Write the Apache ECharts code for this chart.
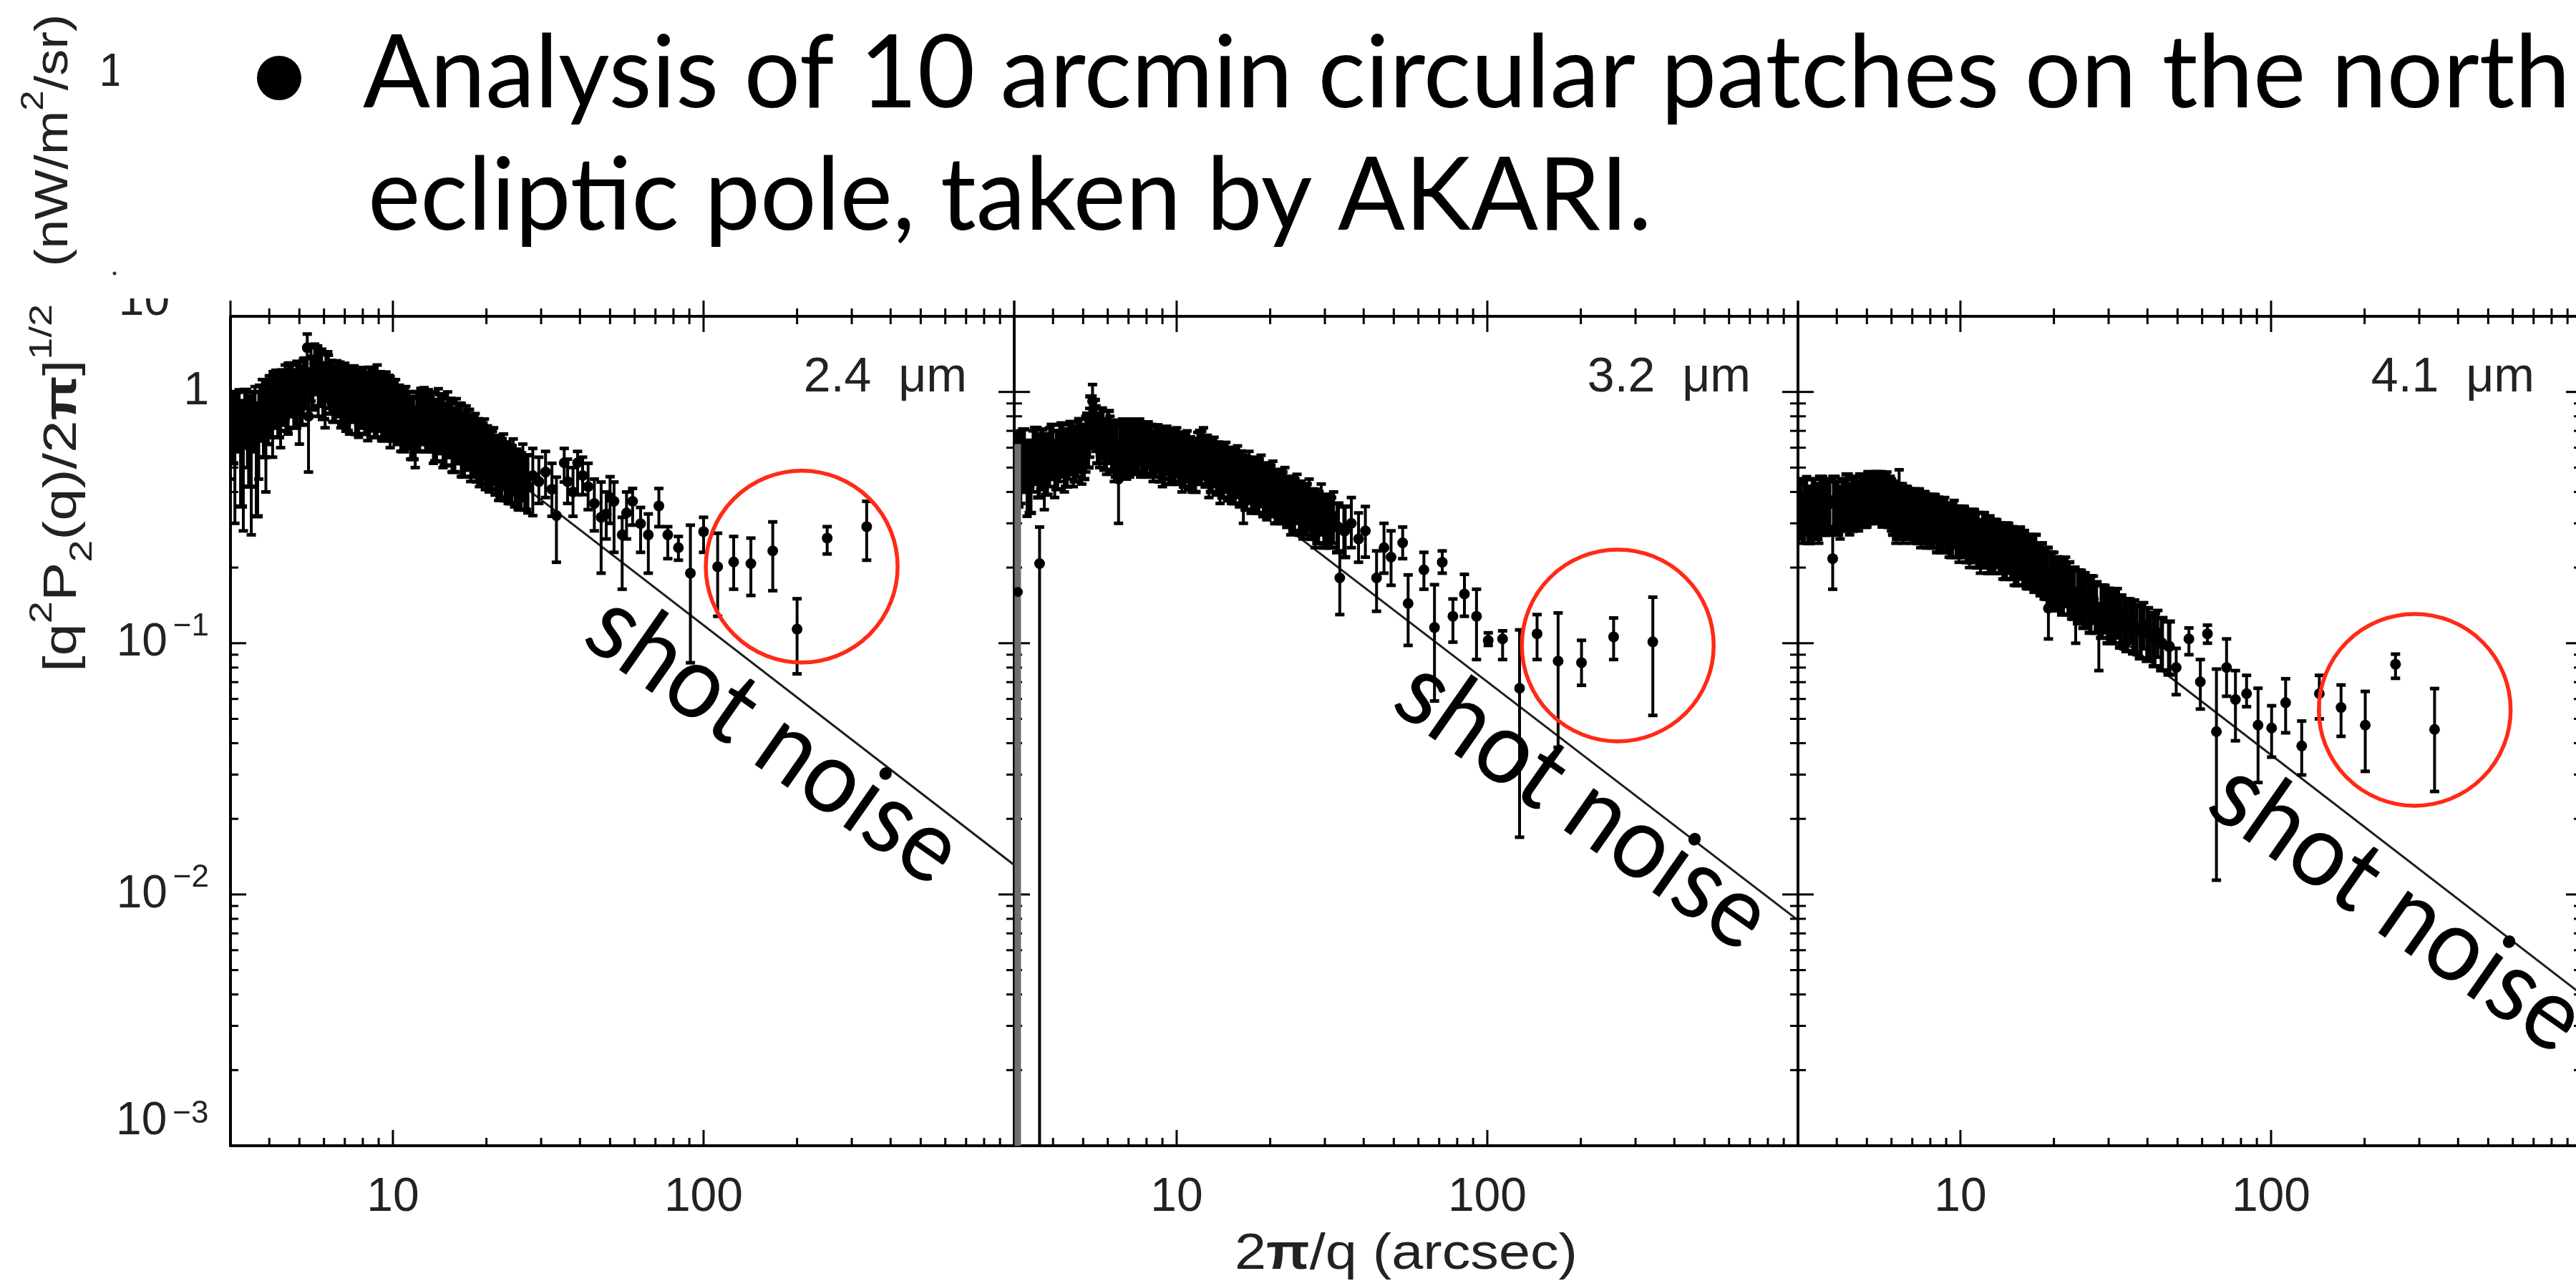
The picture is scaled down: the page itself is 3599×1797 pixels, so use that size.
<!DOCTYPE html>
<html>
<head>
<meta charset="utf-8">
<title>AKARI NEP fluctuation spectra</title>
<script src="https://cdn.jsdelivr.net/npm/echarts@6/dist/echarts.min.js"></script>
<style>
html,body{margin:0;padding:0;background:#ffffff;overflow:hidden}
#chart{width:3599px;height:1797px}
</style>
</head>
<body>
<div id="chart"></div>
<script>
// ================= DATA =================
// 2.4 um panel : x = 2pi/q (arcsec), y = [q^2 P2(q)/2pi]^1/2, lo/hi = error bar ends
const p24x = [3.0,3.1,3.2,3.3,3.4,3.5,3.6,3.7,3.8,3.9,4.0,4.1,4.2,4.35,4.5,4.6,4.75,4.9,5.0,5.15,5.3,5.35,5.45,5.6,5.75,5.9,6.05,6.2,6.4,6.6,6.8,7.0,7.25,7.5,7.75,8.0,8.3,8.6,8.9,9.2,9.5,9.8,10.2,10.6,11.0,11.4,11.8,12.2,12.6,13.0,13.5,14.0,14.5,15.0,15.5,16.0,16.6,17.2,17.8,18.4,19.0,19.7,20.4,21.1,21.9,22.7,23.5,24.4,25.3,26.2,27.2,
  28.2,29.5,31.0,32.5,33.6,35.6,36.5,38.0,39.3,40.8,42.5,44.5,46.8,48.6,50.0,51.5,54.7,56.5,59.1,62.7,66.4,71.8,76.7,83.0,90.7,100,111,125,142,167,200,250,335];
const p24y = [0.80,0.72,0.85,0.68,0.78,0.62,0.82,0.75,0.88,0.70,0.92,0.85,0.95,0.88,1.00,0.90,1.02,0.95,0.88,1.05,1.50,0.80,1.20,1.30,1.10,1.20,1.00,1.15,1.05,1.10,0.98,1.05,0.95,1.02,0.92,0.98,0.90,0.95,1.00,0.85,0.92,0.88,0.90,0.82,0.86,0.78,0.70,0.78,0.85,0.80,0.75,0.80,0.72,0.76,0.68,0.72,0.65,0.68,0.60,0.64,0.57,0.60,0.54,0.57,0.50,0.53,0.47,0.50,0.44,0.47,0.42,
  0.465,0.44,0.48,0.41,0.322,0.522,0.44,0.40,0.522,0.465,0.42,0.36,0.317,0.327,0.38,0.367,0.27,0.33,0.367,0.299,0.27,0.352,0.27,0.24,0.19,0.278,0.2016,0.2105,0.2075,0.233,0.1138,0.262,0.291];
const p24lo = [0.45,0.30,0.60,0.28,0.50,0.27,0.62,0.45,0.66,0.40,0.72,0.55,0.75,0.60,0.78,0.68,0.80,0.72,0.62,0.80,1.20,0.48,0.92,1.02,0.80,0.92,0.72,0.86,0.76,0.82,0.72,0.80,0.68,0.78,0.66,0.74,0.64,0.70,0.66,0.64,0.68,0.60,0.66,0.58,0.62,0.54,0.50,0.58,0.62,0.58,0.52,0.58,0.50,0.55,0.48,0.53,0.46,0.50,0.44,0.48,0.42,0.45,0.40,0.43,0.37,0.41,0.36,0.39,0.34,0.37,0.33,
  0.322,0.36,0.38,0.32,0.210,0.438,0.36,0.32,0.39,0.39,0.34,0.28,0.19,0.26,0.30,0.23,0.164,0.26,0.295,0.23,0.19,0.291,0.217,0.214,0.0836,0.23,0.128,0.164,0.1549,0.1618,0.0755,0.2266,0.214];
const p24hi = [1.00,0.95,1.02,0.92,1.00,0.88,1.05,1.00,1.12,0.98,1.16,1.12,1.22,1.18,1.28,1.30,1.30,1.28,1.20,1.35,1.70,1.10,1.50,1.55,1.45,1.48,1.30,1.40,1.32,1.33,1.28,1.30,1.22,1.27,1.20,1.25,1.20,1.24,1.28,1.18,1.20,1.15,1.12,1.02,1.05,0.96,0.87,0.98,1.04,1.02,1.00,1.03,0.96,1.00,0.92,0.94,0.90,0.88,0.80,0.82,0.76,0.78,0.70,0.72,0.66,0.68,0.62,0.65,0.58,0.62,0.56,
  0.596,0.55,0.58,0.52,0.458,0.596,0.54,0.50,0.58,0.55,0.52,0.45,0.438,0.40,0.46,0.438,0.317,0.40,0.413,0.347,0.327,0.413,0.291,0.266,0.295,0.317,0.274,0.266,0.262,0.304,0.1503,0.291,0.367];
// extra densely packed points of the 2.4 um band
const p24bx = [3.05,3.15,3.25,3.35,3.45,3.55,3.65,3.75,3.85,3.95,4.05,4.15,4.28,4.42,4.55,4.68,4.82,4.95,5.08,5.22,5.5,5.68,5.82,5.98,6.12,6.3,6.5,6.7,6.9,7.12,7.38,7.62,7.88,8.15,8.45,8.75,9.05,9.35,9.65,10.0,10.4,10.8,11.2,11.6,12.0,12.4,12.8,13.25,13.75,14.25,14.75,15.25,15.75,16.3,16.9,17.5,18.1,18.7,19.35,20.0,20.75,21.5,22.3,23.1,24.0,24.85,25.75,26.7];
const p24by = [0.76,0.80,0.70,0.82,0.74,0.80,0.68,0.86,0.78,0.84,0.88,0.96,0.90,0.98,0.94,1.05,0.96,1.08,1.00,1.12,1.10,1.25,1.15,1.05,1.20,1.08,1.02,1.06,1.00,0.96,1.00,0.94,0.96,0.92,0.98,0.90,0.94,0.88,0.90,0.86,0.84,0.80,0.80,0.74,0.80,0.82,0.78,0.78,0.73,0.77,0.70,0.74,0.66,0.70,0.63,0.66,0.62,0.60,0.58,0.56,0.55,0.52,0.51,0.49,0.48,0.46,0.45,0.44];
const p24blo = [0.52,0.58,0.35,0.60,0.42,0.58,0.32,0.64,0.55,0.62,0.66,0.72,0.66,0.74,0.70,0.80,0.72,0.82,0.74,0.86,0.85,0.98,0.88,0.78,0.92,0.82,0.76,0.80,0.74,0.70,0.76,0.68,0.72,0.68,0.72,0.66,0.70,0.64,0.66,0.64,0.62,0.58,0.60,0.54,0.58,0.62,0.58,0.58,0.53,0.57,0.51,0.55,0.48,0.52,0.46,0.49,0.46,0.44,0.43,0.41,0.41,0.39,0.38,0.37,0.36,0.35,0.34,0.34];
const p24bhi = [0.98,1.00,0.92,1.02,0.96,1.00,0.90,1.06,1.02,1.08,1.12,1.20,1.14,1.22,1.20,1.30,1.22,1.32,1.26,1.36,1.38,1.52,1.42,1.30,1.44,1.33,1.26,1.31,1.25,1.21,1.26,1.19,1.22,1.18,1.25,1.16,1.20,1.14,1.16,1.10,1.06,1.02,1.00,0.95,1.00,1.03,0.98,0.99,0.93,0.98,0.90,0.94,0.86,0.90,0.82,0.85,0.80,0.78,0.75,0.73,0.70,0.67,0.65,0.63,0.61,0.59,0.57,0.56];

// 3.2 um panel
const p32x = [3.0,3.15,3.3,3.45,3.75,3.9,4.05,4.2,4.35,4.5,4.65,4.8,4.95,5.1,5.25,5.36,5.5,5.65,5.8,5.95,6.1,6.3,6.5,6.7,6.9,7.1,7.35,7.6,7.85,8.1,8.4,8.7,9.0,9.3,9.65,10.0,10.4,10.8,11.2,11.7,12.2,12.7,13.2,13.8,14.4,15.0,15.7,16.4,17.1,17.9,18.7,19.5,20.4,21.3,22.3,23.3,24.4,25.5,26.7,27.9,29.2,30.6,32.0,36.5,38.5,40.5,46.5,49.0,
  3.62,33.5,44.0,53.4,55.6,62.5,67.6,71.6,77.5,84.4,92.3,100.7,112,127,144.6,169,201,255,341];
const p32y = [0.48,0.52,0.45,0.55,0.50,0.56,0.50,0.57,0.52,0.58,0.54,0.60,0.56,0.62,0.70,0.92,0.72,0.64,0.68,0.60,0.66,0.58,0.45,0.63,0.58,0.64,0.60,0.65,0.58,0.63,0.57,0.61,0.54,0.60,0.55,0.58,0.52,0.56,0.50,0.55,0.58,0.50,0.53,0.47,0.51,0.46,0.49,0.43,0.46,0.42,0.45,0.40,0.42,0.38,0.40,0.35,0.38,0.33,0.36,0.31,0.34,0.30,0.32,0.30,0.26,0.28,0.24,0.22,
  0.2075,0.182,0.182,0.251,0.144,0.196,0.1155,0.210,0.128,0.157,0.128,0.1027,0.104,0.0662,0.109,0.0849,0.0837,0.106,0.1013];
const p32lo = [0.30,0.36,0.32,0.40,0.34,0.42,0.38,0.44,0.40,0.45,0.42,0.46,0.43,0.48,0.55,0.76,0.58,0.50,0.54,0.47,0.52,0.44,0.30,0.50,0.45,0.50,0.47,0.52,0.46,0.50,0.44,0.48,0.42,0.47,0.43,0.46,0.40,0.44,0.40,0.43,0.45,0.38,0.42,0.36,0.40,0.36,0.38,0.30,0.36,0.33,0.35,0.31,0.33,0.30,0.31,0.27,0.30,0.26,0.28,0.24,0.27,0.24,0.25,0.24,0.21,0.22,0.19,0.17,
  0.0005,0.130,0.134,0.217,0.098,0.164,0.0589,0.19,0.101,0.128,0.0861,0.098,0.0861,0.0169,0.0861,0.0385,0.068,0.0861,0.0516];
const p32hi = [0.66,0.70,0.62,0.70,0.66,0.72,0.64,0.74,0.68,0.74,0.70,0.76,0.72,0.80,0.86,1.07,0.88,0.80,0.84,0.76,0.80,0.74,0.62,0.78,0.73,0.78,0.74,0.78,0.72,0.76,0.70,0.74,0.68,0.73,0.70,0.72,0.66,0.70,0.64,0.69,0.72,0.64,0.66,0.60,0.63,0.59,0.61,0.56,0.58,0.55,0.56,0.52,0.53,0.49,0.50,0.46,0.47,0.43,0.45,0.41,0.43,0.39,0.40,0.38,0.33,0.35,0.30,0.28,
  0.29,0.233,0.233,0.29,0.187,0.23,0.171,0.233,0.150,0.188,0.164,0.110,0.112,0.113,0.130,0.132,0.1027,0.126,0.1525];
// extra densely packed points of the 3.2 um band
const p32bx = [3.08,3.22,3.38,3.52,3.6,3.68,3.82,3.98,4.12,4.28,4.42,4.58,4.72,4.88,5.02,5.18,5.3,5.43,5.58,5.72,5.88,6.02,6.2,6.4,6.6,6.8,7.0,7.22,7.48,7.72,7.98,8.25,8.55,8.85,9.15,9.48,9.82,10.2,10.6,11.0,11.45,11.95,12.45,12.95,13.5,14.1,14.7,15.35,16.05,16.75,17.5,18.3,19.1,19.95,20.85,21.8,22.8,23.85,24.95,26.1,27.3,28.5,29.9,31.3,33.0,34.7];
const p32by = [0.50,0.54,0.48,0.57,0.52,0.55,0.53,0.58,0.54,0.59,0.55,0.60,0.57,0.61,0.58,0.64,0.78,0.76,0.66,0.70,0.63,0.68,0.62,0.60,0.61,0.62,0.60,0.62,0.62,0.60,0.59,0.60,0.59,0.57,0.58,0.56,0.57,0.55,0.54,0.53,0.52,0.56,0.54,0.52,0.50,0.49,0.48,0.47,0.46,0.44,0.43,0.43,0.41,0.41,0.39,0.38,0.37,0.36,0.35,0.34,0.33,0.32,0.31,0.30,0.29,0.28];
const p32blo = [0.35,0.40,0.33,0.43,0.38,0.41,0.39,0.45,0.41,0.46,0.42,0.47,0.44,0.48,0.45,0.50,0.62,0.60,0.52,0.56,0.49,0.54,0.48,0.46,0.47,0.48,0.46,0.48,0.48,0.46,0.46,0.47,0.46,0.44,0.45,0.43,0.44,0.43,0.42,0.41,0.40,0.43,0.42,0.40,0.39,0.38,0.37,0.36,0.35,0.34,0.33,0.33,0.32,0.32,0.30,0.30,0.29,0.28,0.27,0.27,0.26,0.25,0.24,0.24,0.23,0.22];
const p32bhi = [0.68,0.71,0.64,0.72,0.68,0.71,0.68,0.74,0.70,0.75,0.71,0.76,0.73,0.78,0.74,0.82,0.96,0.93,0.82,0.86,0.78,0.84,0.77,0.75,0.76,0.77,0.75,0.77,0.77,0.75,0.73,0.74,0.73,0.71,0.72,0.70,0.71,0.69,0.68,0.66,0.65,0.70,0.67,0.65,0.63,0.61,0.60,0.59,0.58,0.55,0.54,0.54,0.52,0.51,0.49,0.48,0.46,0.45,0.44,0.43,0.41,0.40,0.39,0.38,0.36,0.35];
// the long grey bar at the very left of the 3.2 um panel
const p32greyX = [3.08];
const p32greyY = [0.16];
const p32greyLo = [0.0005];
const p32greyHi = [0.62];

// 4.1 um panel
const p41x = [3.0,3.1,3.2,3.3,3.4,3.5,3.6,3.7,3.88,3.95,4.1,4.25,4.4,4.55,4.7,4.85,5.0,5.15,5.3,5.45,5.6,5.8,6.0,6.2,6.35,6.55,6.75,6.95,7.2,7.45,7.7,8.0,8.3,8.6,8.9,9.2,9.55,9.9,10.3,10.7,11.1,11.6,12.1,12.6,13.1,13.7,14.3,14.9,15.6,16.3,17.0,17.8,18.6,19.2,20.0,20.9,21.8,22.8,23.5,24.5,25.6,26.8,27.9,29.2,30.6,32.0,33.6,35.2,37.0,38.9,41.0,43.2,
  49.5,54.4,59.2,62.4,66.7,71.9,76.8,83.4,90.8,100.4,111.4,125.5,143,168,201,251.5,336];
const p41y = [0.36,0.32,0.38,0.34,0.37,0.33,0.38,0.35,0.217,0.36,0.34,0.37,0.35,0.38,0.36,0.39,0.37,0.40,0.38,0.40,0.37,0.39,0.36,0.33,0.35,0.33,0.35,0.32,0.34,0.31,0.33,0.30,0.32,0.29,0.31,0.28,0.30,0.27,0.28,0.26,0.27,0.25,0.26,0.24,0.25,0.23,0.24,0.22,0.23,0.21,0.215,0.20,0.19,0.1377,0.18,0.17,0.175,0.16,0.128,0.155,0.145,0.15,0.1138,0.14,0.13,0.135,0.12,0.125,0.115,0.118,0.108,0.11,
  0.080,0.104,0.0702,0.109,0.0445,0.080,0.0597,0.063,0.0472,0.046,0.058,0.039,0.063,0.0555,0.0472,0.0825,0.0454];
const p41lo = [0.26,0.25,0.28,0.26,0.28,0.25,0.29,0.27,0.164,0.28,0.26,0.29,0.27,0.30,0.28,0.30,0.29,0.31,0.30,0.32,0.29,0.31,0.28,0.25,0.26,0.25,0.27,0.25,0.26,0.24,0.26,0.24,0.25,0.23,0.24,0.22,0.24,0.21,0.22,0.20,0.21,0.19,0.20,0.19,0.20,0.18,0.19,0.17,0.18,0.165,0.17,0.16,0.15,0.104,0.14,0.135,0.14,0.125,0.10,0.12,0.115,0.12,0.0778,0.11,0.10,0.105,0.095,0.10,0.09,0.095,0.085,0.088,
  0.0624,0.09,0.0547,0.10,0.0114,0.0615,0.0409,0.0559,0.0279,0.0352,0.044,0.0299,0.050,0.0426,0.0309,0.0725,0.0257];
const p41hi = [0.44,0.40,0.46,0.42,0.45,0.41,0.46,0.43,0.291,0.44,0.42,0.45,0.43,0.46,0.44,0.47,0.46,0.48,0.47,0.48,0.46,0.48,0.45,0.42,0.49,0.41,0.42,0.40,0.41,0.39,0.40,0.38,0.39,0.36,0.38,0.35,0.37,0.34,0.35,0.33,0.34,0.31,0.32,0.30,0.31,0.29,0.30,0.28,0.29,0.27,0.27,0.25,0.24,0.166,0.23,0.22,0.22,0.20,0.16,0.195,0.18,0.185,0.138,0.17,0.16,0.165,0.15,0.15,0.14,0.145,0.13,0.135,
  0.0954,0.115,0.0861,0.118,0.0789,0.104,0.0778,0.0745,0.0662,0.0564,0.0722,0.049,0.0745,0.0682,0.0643,0.0905,0.066];
// extra densely packed points of the 4.1 um band
const p41bx = [3.05,3.15,3.25,3.35,3.45,3.55,3.65,3.78,3.92,4.02,4.18,4.32,4.48,4.62,4.78,4.92,5.08,5.22,5.38,5.52,5.7,5.9,6.1,6.28,6.45,6.65,6.85,7.08,7.32,7.58,7.85,8.15,8.45,8.75,9.05,9.38,9.72,10.1,10.5,10.9,11.35,11.85,12.35,12.85,13.4,14.0,14.6,15.25,15.95,16.65,17.4,18.2,19.0,19.6,20.45,21.35,22.3,23.2,24.0,25.0,26.2,27.3,28.5,29.9,31.3,32.8,34.4,36.1,38.0,40.0,42.1,44.5,47.0];
const p41by = [0.34,0.36,0.33,0.36,0.34,0.37,0.35,0.36,0.37,0.35,0.36,0.38,0.36,0.37,0.38,0.37,0.39,0.38,0.39,0.39,0.38,0.37,0.35,0.34,0.34,0.34,0.33,0.33,0.33,0.32,0.31,0.31,0.30,0.30,0.29,0.29,0.28,0.28,0.27,0.27,0.26,0.26,0.25,0.25,0.24,0.24,0.23,0.22,0.22,0.21,0.21,0.20,0.19,0.185,0.175,0.17,0.165,0.16,0.155,0.15,0.145,0.14,0.135,0.13,0.128,0.124,0.12,0.118,0.112,0.11,0.105,0.10,0.097];
const p41blo = [0.26,0.27,0.25,0.27,0.26,0.28,0.27,0.27,0.28,0.27,0.28,0.29,0.28,0.29,0.30,0.29,0.30,0.30,0.31,0.31,0.30,0.29,0.27,0.26,0.26,0.26,0.26,0.26,0.25,0.25,0.24,0.24,0.23,0.23,0.23,0.22,0.22,0.22,0.21,0.21,0.20,0.20,0.19,0.19,0.19,0.18,0.18,0.17,0.17,0.165,0.16,0.155,0.15,0.145,0.135,0.13,0.13,0.125,0.12,0.115,0.11,0.11,0.105,0.10,0.10,0.096,0.093,0.091,0.087,0.085,0.081,0.078,0.075];
const p41bhi = [0.43,0.45,0.42,0.45,0.43,0.46,0.44,0.45,0.46,0.44,0.45,0.47,0.45,0.46,0.47,0.46,0.48,0.47,0.48,0.48,0.47,0.46,0.44,0.43,0.43,0.42,0.41,0.41,0.41,0.40,0.39,0.39,0.38,0.37,0.36,0.36,0.35,0.35,0.34,0.34,0.33,0.33,0.32,0.31,0.30,0.30,0.29,0.28,0.28,0.27,0.27,0.25,0.24,0.23,0.22,0.215,0.21,0.20,0.195,0.19,0.185,0.175,0.17,0.165,0.16,0.155,0.15,0.148,0.142,0.138,0.132,0.126,0.122];

// shot-noise lines (end points, data units)
const shot24 = [22, 0.50, 1000, 0.0131];
const shot32 = [23, 0.283, 1000, 0.0079];
const shot41 = [24, 0.14, 1000, 0.0040];

// panel labels
const bandLabels = ['2.4  \u03bcm', '3.2  \u03bcm', '4.1  \u03bcm'];

// axis ticks
const xMajorTicks = [10, 100];
const xMinorTicks = [4,5,6,7,8,9,20,30,40,50,60,70,80,90,200,300,400,500,600,700,800,900];
const yMajorTicks = [0.001, 0.01, 0.1, 1];
const yMinorTicks = [0.002,0.003,0.004,0.005,0.006,0.007,0.008,0.009,0.02,0.03,0.04,0.05,0.06,0.07,0.08,0.09,0.2,0.3,0.4,0.5,0.6,0.7,0.8,0.9];

// annotations (data units of each panel)
const circleCenters = [[207, 0.2018], [263, 0.098], [290, 0.0543]];
const shotLabelAt = [[169, 0.0418], [204, 0.0229], [256, 0.00895]];

// slide text
const titleLine1 = 'Analysis of 10 arcmin circular patches on the north';
const titleLine2 = 'ecliptic pole, taken by AKARI.';

// ================= LAYOUT / STYLE =================
const panelLeft = [322, 1417, 2512];
const panelW = 1095, panelTop = 442, panelH = 1159;
const AX = 'Liberation Sans';
const TXT = '#222';

const ctx = document.createElement('canvas').getContext('2d');
function tw(text, font) { ctx.font = font; return ctx.measureText(text).width; }

function xFmt(v) {
  const e = Math.log10(v), r = Math.round(e);
  if (Math.abs(e - r) > 1e-6) return '';
  if (r === 1) return '10';
  if (r === 2) return '100';
  return '';
}
function yFmt(v) {
  const e = Math.log10(v), r = Math.round(e);
  if (Math.abs(e - r) > 1e-6) return '';
  if (r === 0) return '{b|1}';
  if (r === -3) return '{b3|10}{s|\u2212' + (-r) + '}{sp| }';
  if (r < 0) return '{b|10}{s|\u2212' + (-r) + '}';
  return '';
}

function makeErrRender(barW, capHalf, capW, dotR) {
  return function (params, api) {
    const x = api.value(0);
    const p = api.coord([x, api.value(1)]);
    const a = api.coord([x, api.value(3)]);
    const b = api.coord([x, api.value(2)]);
    const st = {stroke: '#000', lineWidth: barW};
    const cap = {stroke: '#000', lineWidth: capW};
    return {type: 'group', children: [
      {type: 'line', shape: {x1: p[0], y1: a[1], x2: p[0], y2: b[1]}, style: st},
      {type: 'line', shape: {x1: p[0] - capHalf, y1: a[1], x2: p[0] + capHalf, y2: a[1]}, style: cap},
      {type: 'line', shape: {x1: p[0] - capHalf, y1: b[1], x2: p[0] + capHalf, y2: b[1]}, style: cap},
      {type: 'circle', shape: {cx: p[0], cy: p[1], r: dotR}, style: {fill: '#000'}}
    ]};
  };
}
function greyRender(params, api) {
  const x = api.value(0);
  const p = api.coord([x, api.value(1)]);
  const a = api.coord([x, api.value(3)]);
  const b = api.coord([x, api.value(2)]);
  return {type: 'group', children: [
    {type: 'line', shape: {x1: p[0], y1: a[1], x2: p[0], y2: b[1]}, style: {stroke: '#6e6e6e', lineWidth: 9}},
    {type: 'circle', shape: {cx: p[0], cy: p[1], r: 7}, style: {fill: '#000'}}
  ]};
}
function shotRender(params, api) {
  const a = api.coord([api.value(0), api.value(1)]);
  const b = api.coord([api.value(2), api.value(3)]);
  return {type: 'line', shape: {x1: a[0], y1: a[1], x2: b[0], y2: b[1]}, style: {stroke: '#1e1e1e', lineWidth: 3}};
}
function tickRender(params, api) {
  const cs = params.coordSys;
  const L = cs.x, T = cs.y, R = cs.x + cs.width, B = cs.y + cs.height;
  const ch = [];
  const st = {stroke: '#000', lineWidth: 3};
  const seg = (x1, y1, x2, y2) => ch.push({type: 'line', shape: {x1, y1, x2, y2}, style: st});
  xMajorTicks.forEach(v => { const px = api.coord([v, 1])[0]; seg(px, B, px, B - 22); seg(px, T - 22, px, T + 22); });
  xMinorTicks.forEach(v => { const px = api.coord([v, 1])[0]; seg(px, B, px, B - 11); seg(px, T - 11, px, T + 11); });
  yMajorTicks.forEach(v => { const py = api.coord([10, v])[1]; seg(L, py, L + 22, py); seg(R - 22, py, R, py); });
  yMinorTicks.forEach(v => { const py = api.coord([10, v])[1]; seg(L, py, L + 11, py); seg(R - 11, py, R, py); });
  seg(L, T - 22, L, T); seg(R, T - 22, R, T);
  return {type: 'group', children: ch};
}

const panels = [
  {x: p24x, y: p24y, lo: p24lo, hi: p24hi, bx: p24bx, by: p24by, blo: p24blo, bhi: p24bhi, shot: shot24},
  {x: p32x, y: p32y, lo: p32lo, hi: p32hi, bx: p32bx, by: p32by, blo: p32blo, bhi: p32bhi, shot: shot32},
  {x: p41x, y: p41y, lo: p41lo, hi: p41hi, bx: p41bx, by: p41by, blo: p41blo, bhi: p41bhi, shot: shot41}
];

const LINE = {show: true, onZero: false, lineStyle: {color: '#000', width: 4}};
const grids = [], xAxes = [], yAxes = [], series = [];
const errSeriesIndex = [];
panels.forEach((pn, i) => {
  grids.push({left: panelLeft[i], top: panelTop, width: panelW, height: panelH, containLabel: false, outerBoundsMode: 'none', show: false});
  xAxes.push({type: 'log', logBase: 10, gridIndex: i, position: 'bottom', min: 3, max: 1000,
    axisLine: LINE, axisTick: {show: false}, minorTick: {show: false}, splitLine: {show: false},
    axisLabel: {show: true, margin: 40, fontSize: 66, fontFamily: AX, color: TXT, formatter: xFmt}});
  xAxes.push({type: 'log', logBase: 10, gridIndex: i, position: 'top', min: 3, max: 1000,
    axisLine: LINE, axisTick: {show: false}, minorTick: {show: false}, splitLine: {show: false}, axisLabel: {show: false}});
  yAxes.push({type: 'log', logBase: 10, gridIndex: i, position: 'left', min: 0.001, max: 2,
    axisLine: LINE, axisTick: {show: false}, minorTick: {show: false}, splitLine: {show: false},
    axisLabel: i === 0 ? {show: true, margin: 30, color: TXT, fontFamily: AX, fontSize: 64, formatter: yFmt,
      rich: {
        b: {fontSize: 64, fontFamily: AX, color: TXT, lineHeight: 90},
        b3: {fontSize: 64, fontFamily: AX, color: TXT, lineHeight: 90, verticalAlign: 'top'},
        s: {fontSize: 44, fontFamily: AX, color: TXT, lineHeight: 44, verticalAlign: 'top', padding: [0, 0, 0, 8]},
        sp: {fontSize: 2, lineHeight: 132}
      }} : {show: false}});
  yAxes.push({type: 'log', logBase: 10, gridIndex: i, position: 'right', min: 0.001, max: 2,
    axisLine: LINE, axisTick: {show: false}, minorTick: {show: false}, splitLine: {show: false}, axisLabel: {show: false}});

  series.push({type: 'custom', xAxisIndex: 2 * i, yAxisIndex: 2 * i, silent: true, clip: false, z: 3,
    renderItem: tickRender, data: [[10, 1]]});
  series.push({type: 'custom', xAxisIndex: 2 * i, yAxisIndex: 2 * i, silent: true, clip: true, z: 2,
    renderItem: shotRender, encode: {x: [0, 2], y: [1, 3]}, data: [pn.shot]});
  series.push({type: 'custom', xAxisIndex: 2 * i, yAxisIndex: 2 * i, silent: true, clip: true, z: 4,
    renderItem: makeErrRender(6, 8, 6, 8), encode: {x: 0, y: 1},
    data: pn.bx.map((v, k) => [v, pn.by[k], pn.blo[k], pn.bhi[k]])});
  errSeriesIndex.push(series.length);
  series.push({type: 'custom', xAxisIndex: 2 * i, yAxisIndex: 2 * i, silent: true, clip: true, z: 4,
    renderItem: makeErrRender(4, 6.5, 5, 7.5), encode: {x: 0, y: 1},
    data: pn.x.map((v, k) => [v, pn.y[k], pn.lo[k], pn.hi[k]])});
});
series.push({type: 'custom', xAxisIndex: 2, yAxisIndex: 2, silent: true, clip: true, z: 4,
  renderItem: greyRender, encode: {x: 0, y: 1},
  data: p32greyX.map((v, k) => [v, p32greyY[k], p32greyLo[k], p32greyHi[k]])});

const chart = echarts.init(document.getElementById('chart'), null, {renderer: 'canvas', width: 3599, height: 1797});
chart.setOption({
  animation: false,
  backgroundColor: '#ffffff',
  grid: grids, xAxis: xAxes, yAxis: yAxes, series: series
});

// ================= overlays =================
const g = [];
const LATO = 'Lato';
// slide title
const titleFont = '142px ' + LATO;
const sxTitle = 3084 / tw(titleLine1, titleFont);
g.push({type: 'circle', shape: {cx: 390, cy: 109, r: 31}, style: {fill: '#000'}, z: 60});
g.push({type: 'text', x: 507, y: 104, scaleX: sxTitle, z: 60,
  style: {text: titleLine1, font: titleFont, fill: '#000', align: 'left', verticalAlign: 'middle', textAlign: 'left', textVerticalAlign: 'middle'}});
g.push({type: 'text', x: 514, y: 275, scaleX: sxTitle, z: 60,
  style: {text: titleLine2, font: titleFont, fill: '#000', align: 'left', verticalAlign: 'middle', textAlign: 'left', textVerticalAlign: 'middle'}});

// fragments of the upper figure row
g.push({type: 'text', x: 237, y: 422, z: 50,
  style: {text: '10', font: '64px "' + AX + '"', fill: TXT, align: 'right', verticalAlign: 'middle', textAlign: 'right', textVerticalAlign: 'middle'}});
g.push({type: 'rect', shape: {x: 166, y: 0, width: 3440, height: 417}, style: {fill: '#ffffff'}, z: 55});
g.push({type: 'text', x: 156, y: 102, z: 50,
  style: {text: '1', font: '64px "' + AX + '"', fill: TXT, align: 'center', verticalAlign: 'middle', textAlign: 'center', textVerticalAlign: 'middle'}});
g.push({type: 'circle', shape: {cx: 160, cy: 382, r: 2.5}, style: {fill: '#333'}, z: 50});

// rotated y-axis title, two parts
const rs = {
  m: {size: 64, weight: 'normal'}, pb: {size: 64, weight: 'bold'},
  sp: {size: 44, weight: 'normal'}, sb: {size: 44, weight: 'normal'},
  m2: {size: 70, weight: 'normal'}, pb2: {size: 70, weight: 'bold'}
};
function richWidth(tokens) {
  let w = 0;
  tokens.forEach(t => { const s = rs[t[1]]; w += tw(t[0], s.weight + ' ' + s.size + 'px "' + AX + '"'); });
  return w;
}
function richText(tokens) { return tokens.map(t => '{' + t[1] + '|' + t[0] + '}').join(''); }
const richStyles = {
  m: {fontSize: 64, fontFamily: AX, lineHeight: 100, fill: TXT, color: TXT},
  pb: {fontSize: 64, fontFamily: AX, fontWeight: 'bold', lineHeight: 100, fill: TXT, color: TXT},
  sp: {fontSize: 44, fontFamily: AX, lineHeight: 44, verticalAlign: 'top', fill: TXT, color: TXT},
  sb: {fontSize: 44, fontFamily: AX, lineHeight: 44, verticalAlign: 'bottom', fill: TXT, color: TXT}
};
const yTitleA = [['[q', 'm'], ['2', 'sp'], ['P', 'm'], ['2', 'sb'], ['(q)/2', 'm'], ['\u03c0', 'pb'], [']', 'm'], ['1/2', 'sp']];
const yTitleB = [['(nW/m', 'm'], ['2', 'sp'], ['/sr)', 'm']];
g.push({type: 'text', x: 88, y: 682, rotation: Math.PI / 2, scaleX: 514 / richWidth(yTitleA), z: 50,
  style: {text: richText(yTitleA), rich: richStyles, font: '64px "' + AX + '"', fill: TXT,
    align: 'center', verticalAlign: 'middle', textAlign: 'center', textVerticalAlign: 'middle'}});
g.push({type: 'text', x: 76, y: 196, rotation: Math.PI / 2, scaleX: 353 / richWidth(yTitleB), z: 50,
  style: {text: richText(yTitleB), rich: richStyles, font: '64px "' + AX + '"', fill: TXT,
    align: 'center', verticalAlign: 'middle', textAlign: 'center', textVerticalAlign: 'middle'}});

// x-axis title under the middle panel
const xTitle = [['2', 'm2'], ['\u03c0', 'pb2'], ['/q (arcsec)', 'm2']];
g.push({type: 'text', x: panelLeft[1] + panelW / 2, y: 1754, scaleX: 479 / richWidth(xTitle), z: 50,
  style: {text: richText(xTitle),
    rich: {m2: {fontSize: 70, fontFamily: AX, fill: TXT, color: TXT}, pb2: {fontSize: 70, fontFamily: AX, fontWeight: 'bold', fill: TXT, color: TXT}},
    font: '70px "' + AX + '"', fill: TXT, align: 'center', verticalAlign: 'middle', textAlign: 'center', textVerticalAlign: 'middle'}});

// band labels
bandLabels.forEach((t, i) => {
  g.push({type: 'text', x: panelLeft[i] + panelW - 66, y: 528, z: 50,
    style: {text: t, font: '68px "' + AX + '"', fill: TXT, align: 'right', verticalAlign: 'middle', textAlign: 'right', textVerticalAlign: 'middle'}});
});

// red circles and "shot noise" labels, anchored in data space
const shotFont = '142px ' + LATO;
const sxShot = 600 / tw('shot noise', shotFont);
for (let i = 0; i < 3; i++) {
  const c = chart.convertToPixel({seriesIndex: errSeriesIndex[i]}, circleCenters[i]);
  g.push({type: 'circle', shape: {cx: c[0], cy: c[1], r: 134}, style: {fill: 'none', stroke: '#ff2a17', lineWidth: 5.5}, z: 45});
  const s = chart.convertToPixel({seriesIndex: errSeriesIndex[i]}, shotLabelAt[i]);
  g.push({type: 'text', x: s[0], y: s[1], rotation: -35 * Math.PI / 180, scaleX: sxShot, z: 46,
    style: {text: 'shot noise', font: shotFont, fill: '#000', align: 'center', verticalAlign: 'middle', textAlign: 'center', textVerticalAlign: 'middle'}});
}

chart.setOption({graphic: {elements: g}});
</script>
</body>
</html>
